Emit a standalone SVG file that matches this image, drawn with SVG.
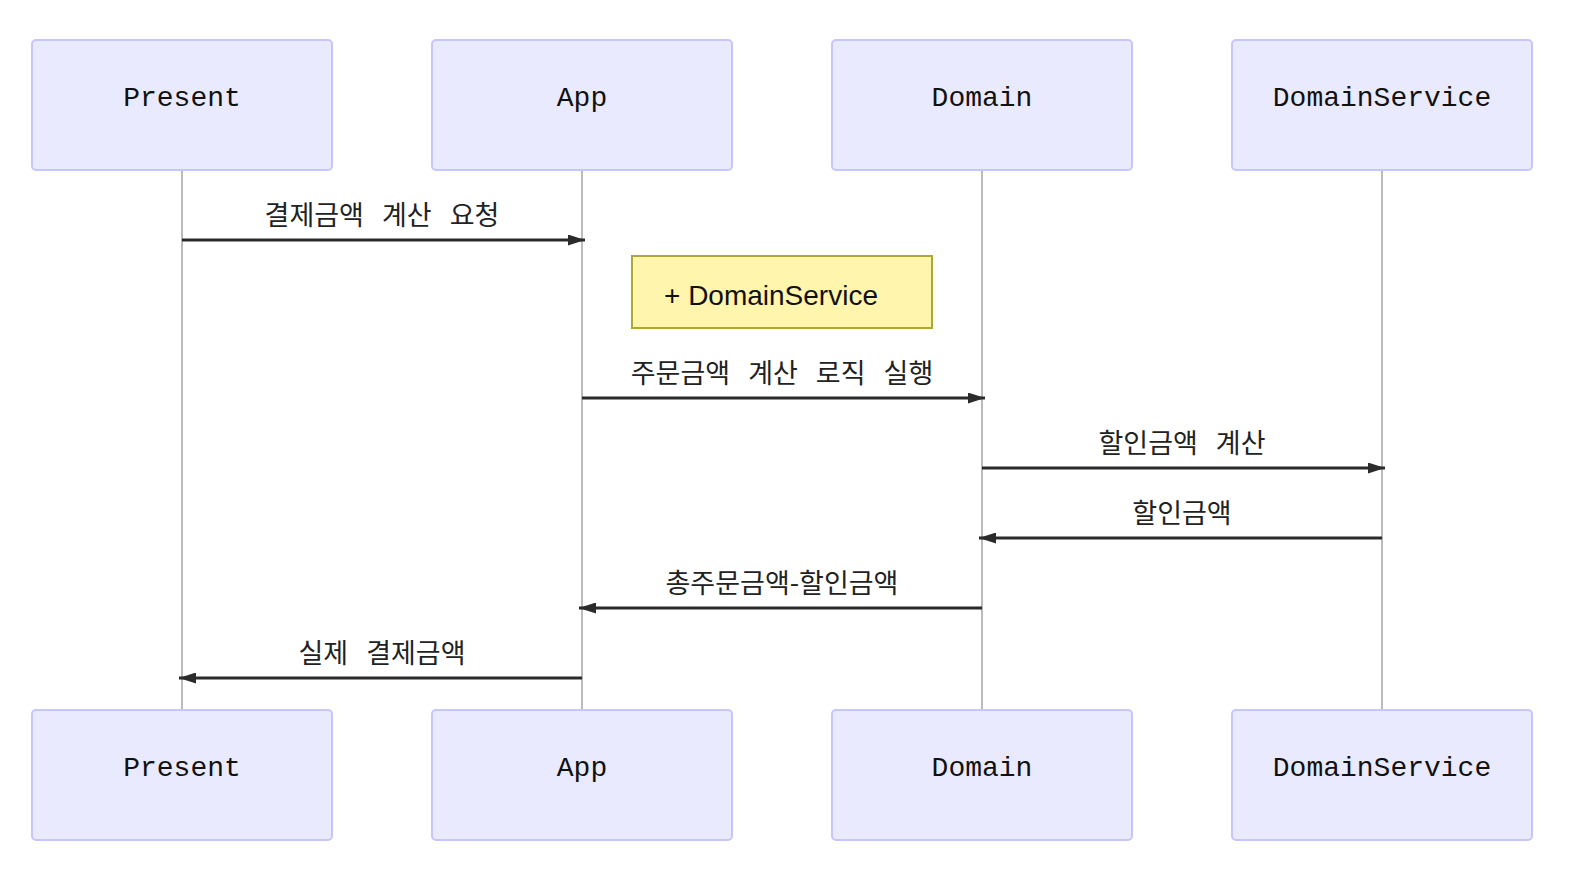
<svg xmlns="http://www.w3.org/2000/svg" width="1572" height="892" viewBox="0 0 1572 892">
<style>
.actor{fill:#eaeaff;stroke:#c6c6ff;stroke-width:2}
.atext{font-family:"Liberation Mono","Courier New",monospace;font-size:28px;fill:#111;text-anchor:middle;dominant-baseline:central}
.life{stroke:#aaaaaa;stroke-width:1.6}
.msg{stroke:#2b2b2b;stroke-width:2.8;fill:none}
.mtext{font-family:"Noto Sans CJK KR","Noto Sans",sans-serif;font-size:27px;fill:#222;text-anchor:middle;word-spacing:12px}
.note{fill:#fff5ad;stroke:#aaaa33;stroke-width:2}
.ntext{font-family:"Liberation Sans",Arial,sans-serif;font-size:28px;fill:#111}
</style>
<defs>
<marker id="ah" viewBox="0 0 17 11" refX="17" refY="5.5" markerWidth="17" markerHeight="11" markerUnits="userSpaceOnUse" orient="auto">
<path d="M0,0 L17,5.5 L0,11 z" fill="#2b2b2b"/>
</marker>
</defs>
<g id="lifelines">
<line class="life" x1="182" y1="170" x2="182" y2="710"/>
<line class="life" x1="582" y1="170" x2="582" y2="710"/>
<line class="life" x1="982" y1="170" x2="982" y2="710"/>
<line class="life" x1="1382" y1="170" x2="1382" y2="710"/>
</g>
<g id="present-top"><rect class="actor" x="32" y="40" width="300" height="130" rx="4"/><text class="atext" x="182" y="98">Present</text></g>
<g id="app-top"><rect class="actor" x="432" y="40" width="300" height="130" rx="4"/><text class="atext" x="582" y="98">App</text></g>
<g id="domain-top"><rect class="actor" x="832" y="40" width="300" height="130" rx="4"/><text class="atext" x="982" y="98">Domain</text></g>
<g id="domainservice-top"><rect class="actor" x="1232" y="40" width="300" height="130" rx="4"/><text class="atext" x="1382" y="98">DomainService</text></g>
<g id="present-bottom"><rect class="actor" x="32" y="710" width="300" height="130" rx="4"/><text class="atext" x="182" y="768">Present</text></g>
<g id="app-bottom"><rect class="actor" x="432" y="710" width="300" height="130" rx="4"/><text class="atext" x="582" y="768">App</text></g>
<g id="domain-bottom"><rect class="actor" x="832" y="710" width="300" height="130" rx="4"/><text class="atext" x="982" y="768">Domain</text></g>
<g id="domainservice-bottom"><rect class="actor" x="1232" y="710" width="300" height="130" rx="4"/><text class="atext" x="1382" y="768">DomainService</text></g>
<g id="note"><rect class="note" x="632" y="256" width="300" height="72"/><text class="ntext" x="664" y="305">+ DomainService</text></g>
<g id="connectors">
<line class="msg" x1="182" y1="240" x2="585" y2="240" marker-end="url(#ah)"/>
<text class="mtext" x="382" y="225">결제금액 계산 요청</text>
<line class="msg" x1="582" y1="398" x2="985" y2="398" marker-end="url(#ah)"/>
<text class="mtext" x="782" y="383">주문금액 계산 로직 실행</text>
<line class="msg" x1="982" y1="468" x2="1385" y2="468" marker-end="url(#ah)"/>
<text class="mtext" x="1182" y="453">할인금액 계산</text>
<line class="msg" x1="1382" y1="538" x2="979" y2="538" marker-end="url(#ah)"/>
<text class="mtext" x="1182" y="523">할인금액</text>
<line class="msg" x1="982" y1="608" x2="579" y2="608" marker-end="url(#ah)"/>
<text class="mtext" x="782" y="593">총주문금액-할인금액</text>
<line class="msg" x1="582" y1="678" x2="179" y2="678" marker-end="url(#ah)"/>
<text class="mtext" x="382" y="663">실제 결제금액</text>
</g>
</svg>
